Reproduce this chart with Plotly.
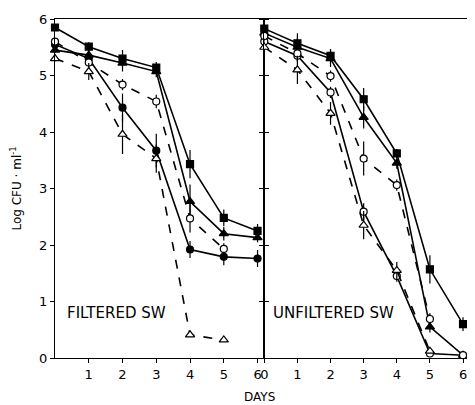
import plotly.graph_objects as go
from plotly.subplots import make_subplots

days = [0, 1, 2, 3, 4, 5, 6]
days5 = [0, 1, 2, 3, 4, 5]

# FILTERED SW (left panel)
f_sq = [5.85, 5.51, 5.30, 5.14, 3.43, 2.48, 2.25]
f_sq_err = [0.05, 0.08, 0.15, 0.1, 0.25, 0.15, 0.12]
f_tri = [5.45, 5.36, 5.22, 5.07, 2.77, 2.20, 2.13]
f_tri_err = [0.05, 0.1, 0.15, 0.1, 0.3, 0.12, 0.08]
f_ocirc = [5.60, 5.23, 4.84, 4.54, 2.47, 1.93]
f_ocirc_err = [0.05, 0.08, 0.1, 0.12, 0.25, 0.1]
f_circ = [5.55, 5.30, 4.43, 3.67, 1.92, 1.79, 1.76]
f_circ_err = [0.05, 0.1, 0.25, 0.3, 0.15, 0.15, 0.15]
f_otri = [5.30, 5.07, 3.96, 3.53, 0.41, 0.32]
f_otri_err = [0.05, 0.15, 0.35, 0.25, 0.0, 0.0]

# UNFILTERED SW (right panel)
u_sq = [5.83, 5.57, 5.35, 4.58, 3.62, 1.57, 0.60]
u_sq_err = [0.1, 0.1, 0.12, 0.2, 0.08, 0.25, 0.12]
u_tri = [5.75, 5.50, 5.30, 4.26, 3.45, 0.55, 0.05]
u_tri_err = [0.1, 0.25, 0.15, 0.2, 0.1, 0.1, 0.0]
u_ocirc = [5.70, 5.39, 4.99, 3.53, 3.06, 0.69]
u_ocirc_err = [0.1, 0.1, 0.1, 0.3, 0.1, 0.1]
u_circ = [5.60, 5.35, 4.70, 2.59, 1.45, 0.08, 0.05]
u_circ_err = [0.1, 0.1, 0.1, 0.15, 0.1, 0.0, 0.0]
u_otri = [5.50, 5.10, 4.33, 2.35, 1.55, 0.12]
u_otri_err = [0.1, 0.25, 0.2, 0.25, 0.15, 0.0]

x_left_ticks = [1, 2, 3, 4, 5, 6]
x_right_ticks = [0, 1, 2, 3, 4, 5, 6]
y_ticks = [0, 1, 2, 3, 4, 5, 6]

fig = make_subplots(rows=1, cols=2, shared_yaxes=False, horizontal_spacing=0)

def add(col, x, y, err, symbol, filled, dash):
    fig.add_trace(go.Scatter(
        x=x, y=y, mode="lines+markers", cliponaxis=False,
        line=dict(color="black", width=1.6, dash=dash),
        marker=dict(symbol=symbol, size=7 if "triangle" not in symbol else 8,
                    color="black" if filled else "white",
                    line=dict(color="black", width=1.2)),
        error_y=dict(type="data", array=err, visible=True, width=0,
                     thickness=1.2, color="black"),
        showlegend=False), row=1, col=col)

add(1, days, f_sq, f_sq_err, "square", True, "solid")
add(1, days, f_tri, f_tri_err, "triangle-up", True, "solid")
add(1, days, f_circ, f_circ_err, "circle", True, "solid")
add(1, days5, f_ocirc, f_ocirc_err, "circle", False, "dash")
add(1, days5, f_otri, f_otri_err, "triangle-up", False, "dash")

add(2, days, u_sq, u_sq_err, "square", True, "solid")
add(2, days, u_tri, u_tri_err, "triangle-up", True, "solid")
add(2, days, u_circ, u_circ_err, "circle", False, "solid")
add(2, days5, u_ocirc, u_ocirc_err, "circle", False, "dash")
add(2, days5, u_otri, u_otri_err, "triangle-up", False, "dash")

font = dict(family="DejaVu Sans", size=13, color="black")
axis_common = dict(showgrid=False, zeroline=False, showline=True, linecolor="black",
                   linewidth=1.3, ticks="outside", ticklen=4, tickcolor="black",
                   tickwidth=1.2, tickfont=font)

fig.update_xaxes(axis_common, mirror=True)
fig.update_yaxes(axis_common, mirror="ticks", range=[0, 6], tickvals=y_ticks)
fig.update_xaxes(range=[0, 6.2], tickvals=x_left_ticks, domain=[0, 0.508], row=1, col=1)
fig.update_xaxes(range=[0, 6.12], tickvals=x_right_ticks, domain=[0.508, 1], row=1, col=2)
fig.update_yaxes(showticklabels=False, row=1, col=2)
fig.update_yaxes(title=dict(text="Log CFU · ml<sup>-1</sup>", font=dict(family="DejaVu Sans", size=12),
                            standoff=16), row=1, col=1)

fig.add_annotation(text="FILTERED SW", xref="x", yref="y", x=0.3, y=0.8, xanchor="left",
                   showarrow=False, font=dict(family="DejaVu Sans", size=15, color="black"))
fig.add_annotation(text="UNFILTERED SW", xref="x2", yref="y2", x=0.2, y=0.8, xanchor="left",
                   showarrow=False, font=dict(family="DejaVu Sans", size=15, color="black"))
fig.add_annotation(text="DAYS", xref="paper", yref="paper", x=0.497, y=-0.115, yanchor="middle",
                   showarrow=False, font=dict(family="DejaVu Sans", size=12, color="black"))

fig.update_layout(width=467, height=397, margin=dict(l=47, r=3, t=11, b=47),
                  plot_bgcolor="white", paper_bgcolor="white", font=font)

fig.write_html("out.html")
